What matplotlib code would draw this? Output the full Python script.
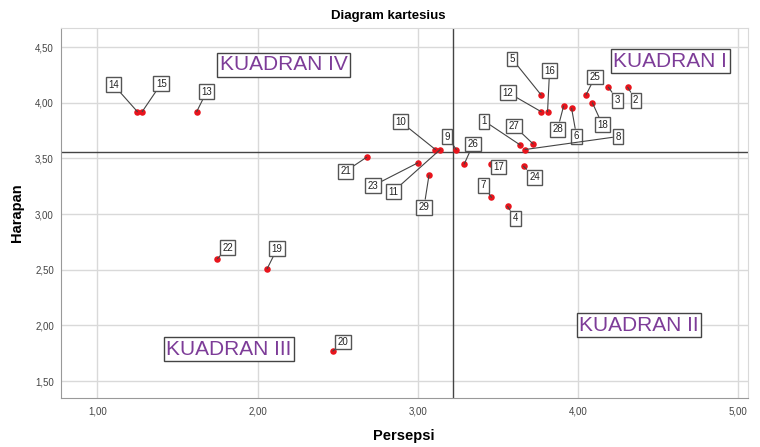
import matplotlib.pyplot as plt
from matplotlib.ticker import FuncFormatter

plt.rcParams['font.family'] = ['Liberation Sans', 'DejaVu Sans']

# responden / atribut 1..29
labels = [str(i) for i in range(1, 30)]
persepsi = [3.64, 4.31, 4.19, 3.56, 3.77, 3.96, 3.46, 3.67, 3.24, 3.11,
            3.14, 3.77, 1.62, 1.25, 1.28, 3.81, 3.46, 4.09, 2.06, 2.47,
            2.68, 1.75, 3.00, 3.66, 4.05, 3.29, 3.72, 3.91, 3.07]
harapan = [3.62, 4.14, 4.14, 3.07, 4.07, 3.95, 3.15, 3.58, 3.58, 3.58,
           3.58, 3.92, 3.92, 3.92, 3.92, 3.92, 3.45, 4.00, 2.51, 1.77,
           3.51, 2.60, 3.46, 3.43, 4.07, 3.45, 3.63, 3.97, 3.35]

mean_x = 3.22
mean_y = 3.557

quadrants = ['KUADRAN I', 'KUADRAN II', 'KUADRAN III', 'KUADRAN IV']
quad_pos = [(4.575, 4.374), (4.38, 2.0), (1.82, 1.787), (2.163, 4.34)]

# label offsets in pixels (dx, dy)
offsets = {
    '1': (-36, 24), '2': (8, -13), '3': (9, -13), '4': (8, -12), '5': (-29, 36),
    '6': (5, -28), '7': (-8, 12), '8': (93, 13), '9': (-9, 13), '10': (-35, 28),
    '11': (-47, -42), '12': (-33, 19), '13': (10, 20), '14': (-24, 27),
    '15': (19, 28), '16': (2, 41), '17': (7, -3), '18': (10, -22), '19': (10, 20),
    '20': (10, 9), '21': (-21, -14), '22': (10, 11), '23': (-45, -23),
    '24': (11, -11), '25': (9, 18), '26': (9, 20), '27': (-19, 18),
    '28': (-6, -23), '29': (-5, -32),
}

fig = plt.figure(figsize=(7.6, 4.47), dpi=100)
ax = fig.add_axes([0.080, 0.110, 0.904, 0.827])

ax.set_xlim(0.772, 5.06)
ax.set_ylim(1.35, 4.67)
ax.set_xticks([1, 2, 3, 4, 5])
ax.set_yticks([1.5, 2.0, 2.5, 3.0, 3.5, 4.0, 4.5])
fmt = FuncFormatter(lambda v, p: f'{v:.2f}'.replace('.', ','))
ax.xaxis.set_major_formatter(fmt)
ax.yaxis.set_major_formatter(fmt)
ax.tick_params(length=0, labelsize=7, colors='#444444')
ax.tick_params(axis='x', pad=6)
ax.tick_params(axis='y', pad=5)
ax.grid(True, color='#d9d9d9', linewidth=1)
ax.set_axisbelow(True)
for s in ['top', 'right']:
    ax.spines[s].set_color('#d9d9d9')
for s in ['left', 'bottom']:
    ax.spines[s].set_color('#999999')

ax.axvline(mean_x, color='#444444', linewidth=1, zorder=2)
ax.axhline(mean_y, color='#444444', linewidth=1, zorder=2)

ax.scatter(persepsi, harapan, s=22, color='#e8141c', zorder=3, linewidths=0)

for lab, x, y in zip(labels, persepsi, harapan):
    dx, dy = offsets[lab]
    ax.annotate(lab, (x, y), xytext=(dx, dy), textcoords='offset pixels',
                ha='center', va='center', fontsize=7, color='#222222', zorder=5,
                bbox=dict(boxstyle='square,pad=0.25', fc='white', ec='#555555', lw=1),
                arrowprops=dict(arrowstyle='-', color='#444444', lw=0.8,
                                shrinkA=0, shrinkB=0))

for q, (qx, qy) in zip(quadrants, quad_pos):
    ax.text(qx, qy, q, ha='center', va='center', fontsize=15, color='#7d3c98',
            zorder=6, bbox=dict(boxstyle='square,pad=0.12', fc='white', ec='#444444', lw=1))

fig.text(388 / 760, 1 - 16 / 447, 'Diagram kartesius', ha='center', va='center',
         fontsize=9.5, fontweight='bold')
fig.text(404 / 760, 1 - 436 / 447, 'Persepsi', ha='center', va='center',
         fontsize=10.5, fontweight='bold')
fig.text(17 / 760, 1 - 213 / 447, 'Harapan', ha='center', va='center',
         rotation=90, fontsize=10.5, fontweight='bold')

fig.savefig('out.png', dpi=100)
